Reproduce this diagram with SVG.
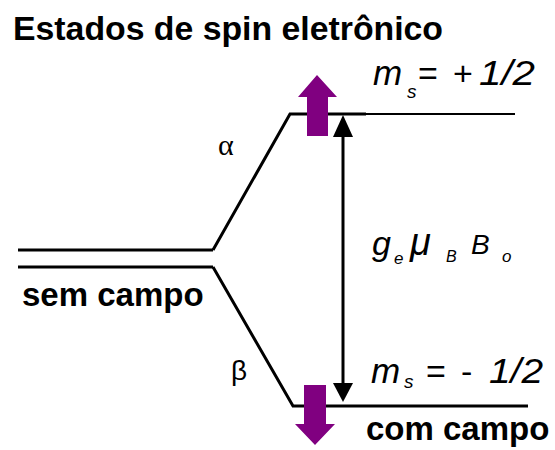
<svg xmlns="http://www.w3.org/2000/svg" width="555" height="450" viewBox="0 0 555 450">
<style>
.lbl{font-family:"Liberation Sans",Arial,sans-serif;font-weight:bold;font-size:33px;fill:#000}
.it{font-family:"Liberation Sans",Arial,sans-serif;font-style:italic;fill:#000}
.up{font-family:"Liberation Sans",Arial,sans-serif;fill:#000;font-size:34px}
.ln{stroke:#000;fill:none;stroke-linejoin:miter}
.spin{fill:#800080}
</style>
<rect width="555" height="450" fill="#fff"/>
<text class="lbl" x="13" y="40" textLength="430" lengthAdjust="spacingAndGlyphs">Estados de spin eletrônico</text>
<g id="unsplit-level">
<line class="ln" x1="18" y1="250" x2="213" y2="250" stroke-width="3"/>
<line class="ln" x1="18" y1="267" x2="213" y2="267" stroke-width="3"/>
<text class="lbl" x="22" y="306">sem campo</text>
</g>
<g id="connectors">
<polyline class="ln" points="213,250 290,114 366,114" stroke-width="3"/>
<line class="ln" x1="366" y1="114" x2="515" y2="114" stroke-width="2"/>
<polyline class="ln" points="213,267 293,406 528,406" stroke-width="3"/>
<line class="ln" x1="343" y1="134" x2="343" y2="386" stroke-width="3"/>
<polygon points="343,115 353,137 333,137" fill="#000"/>
<polygon points="343,402 353,383 333,383" fill="#000"/>
</g>
<g id="alpha">
<text x="218" y="155" font-family="Liberation Serif,serif" font-size="30" fill="#000">α</text>
<polygon class="spin" points="317,75 337,97 328,97 328,136 307,136 307,97 298,97"/>
<text class="it" x="373" y="85" font-size="35">m</text>
<text class="it" x="407" y="98" font-size="19">s</text>
<text class="up" x="418" y="85">=</text>
<text class="up" x="453" y="85">+</text>
<text class="it" x="479" y="85" font-size="35" textLength="56" lengthAdjust="spacingAndGlyphs">1/2</text>
</g>
<g id="beta">
<text x="231" y="380" font-family="Liberation Sans,sans-serif" font-size="28" fill="#000">β</text>
<polygon class="spin" points="315,445 335,424 326,424 326,385 304,385 304,424 295,424"/>
<text class="it" x="371" y="383" font-size="35">m</text>
<text class="it" x="404" y="388" font-size="19">s</text>
<text class="up" x="426" y="383">=</text>
<text class="up" x="461" y="383">-</text>
<text class="it" x="489" y="383" font-size="35" textLength="54" lengthAdjust="spacingAndGlyphs">1/2</text>
<text class="lbl" x="366" y="440">com campo</text>
</g>
<g id="energy-gap">
<text class="it" x="372" y="255" font-size="34">g</text>
<text class="it" x="394" y="264" font-size="17">e</text>
<text class="it" x="410" y="255" font-size="38">μ</text>
<text class="it" x="446" y="262" font-size="16">B</text>
<text class="it" x="471" y="254" font-size="28">B</text>
<text class="it" x="502" y="262" font-size="17">o</text>
</g>
</svg>
